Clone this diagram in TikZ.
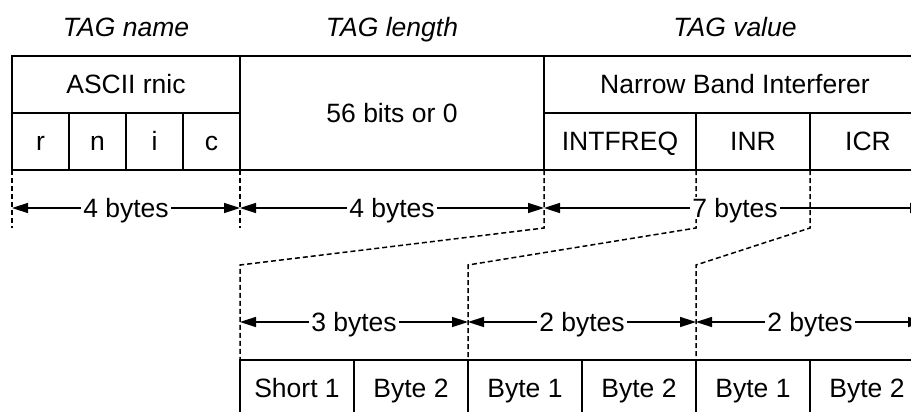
\documentclass[tikz,border=0pt]{standalone}
\usepackage{fontspec}
\setmainfont{Liberation Sans}
\usetikzlibrary{arrows.meta,positioning}

\begin{document}
\begin{tikzpicture}[
		x=1pt, y=-1pt,
		>={Triangle[length=16pt,width=10pt]},
		font=\fontsize{26.5}{30}\selectfont,
		cell/.style={draw, line width=1.6pt, minimum width=#1, minimum height=57pt,
				text height=18.5pt, text depth=0pt,
				inner sep=0pt, outer sep=0pt, anchor=north west},
		title/.style={font=\fontsize{26.5}{30}\selectfont\itshape,
				text height=18.5pt, text depth=0pt},
		guide/.style={dash pattern=on 5pt off 3pt, line width=1.5pt},
		dim/.style={<->, line width=1.5pt},
		dimlabel/.style={fill=white, inner sep=2pt, text height=18.5pt, text depth=0pt},
	]

	\useasboundingbox (0,0) rectangle (911,412);
	\clip (0,0) rectangle (911,412);

	\node[title] (tagname) at (126,27) {TAG name};
	\node[title] (taglength) at (392,27) {TAG length};
	\node[title] (tagvalue) at (735,27) {TAG value};

	\node[cell=228pt] (ascii) at (12,56) {ASCII rnic};
	\node[cell=57pt] (r) at (ascii.south west) {r};
	\node[cell=57pt, right=0pt of r] (n) {n};
	\node[cell=57pt, right=0pt of n] (i) {i};
	\node[cell=57pt, right=0pt of i] (c) {c};

	\node[cell=304pt, minimum height=114pt] (len) at (ascii.north east) {56 bits or 0};

	\node[cell=382pt] (nbi) at (len.north east) {Narrow Band Interferer};
	\node[cell=152pt] (intfreq) at (nbi.south west) {INTFREQ};
	\node[cell=114pt, right=0pt of intfreq] (inr) {INR};
	\node[cell=116pt, right=0pt of inr] (icr) {ICR};

	\node[cell=114pt] (fq1) at (240,360) {Short 1};
	\node[cell=114pt, right=0pt of fq1] (fq2) {Byte 2};
	\node[cell=114pt, right=0pt of fq2] (nr1) {Byte 1};
	\node[cell=114pt, right=0pt of nr1] (nr2) {Byte 2};
	\node[cell=114pt, right=0pt of nr2] (cr1) {Byte 1};
	\node[cell=114pt, right=0pt of cr1] (cr2) {Byte 2};

	\coordinate (dimtop) at (0,208);
	\coordinate (guideend) at (0,228);
	\coordinate (bend) at (0,265);
	\coordinate (dimbot) at (0,322);

	% guide lines
	\draw[guide] (r.south west) -- (r.south west |- guideend);
	\draw[guide] (c.south east) -- (c.south east |- guideend);
	\draw[guide] (len.south east) -- (len.south east |- guideend)
	-- (fq1.north west |- bend) -- (fq1.north west);
	\draw[guide] (inr.south west) -- (inr.south west |- guideend)
	-- (fq2.north east |- bend) -- (fq2.north east);
	\draw[guide] (icr.south west) -- (icr.south west |- guideend)
	-- (nr2.north east |- bend) -- (nr2.north east);

	% byte counts
	\draw[dim] (r.south west |- dimtop) -- node[dimlabel] {4 bytes} (c.south east |- dimtop);
	\draw[dim] (len.south west |- dimtop) -- node[dimlabel] {4 bytes} (len.south east |- dimtop);
	\draw[dim] (intfreq.south west |- dimtop) -- node[dimlabel] {7 bytes} (icr.south east |- dimtop);

	\draw[dim] (fq1.north west |- dimbot) -- node[dimlabel] {3 bytes} (fq2.north east |- dimbot);
	\draw[dim] (nr1.north west |- dimbot) -- node[dimlabel] {2 bytes} (nr2.north east |- dimbot);
	\draw[dim] (cr1.north west |- dimbot) -- node[dimlabel] {2 bytes} (cr2.north east |- dimbot);

\end{tikzpicture}
\end{document}
